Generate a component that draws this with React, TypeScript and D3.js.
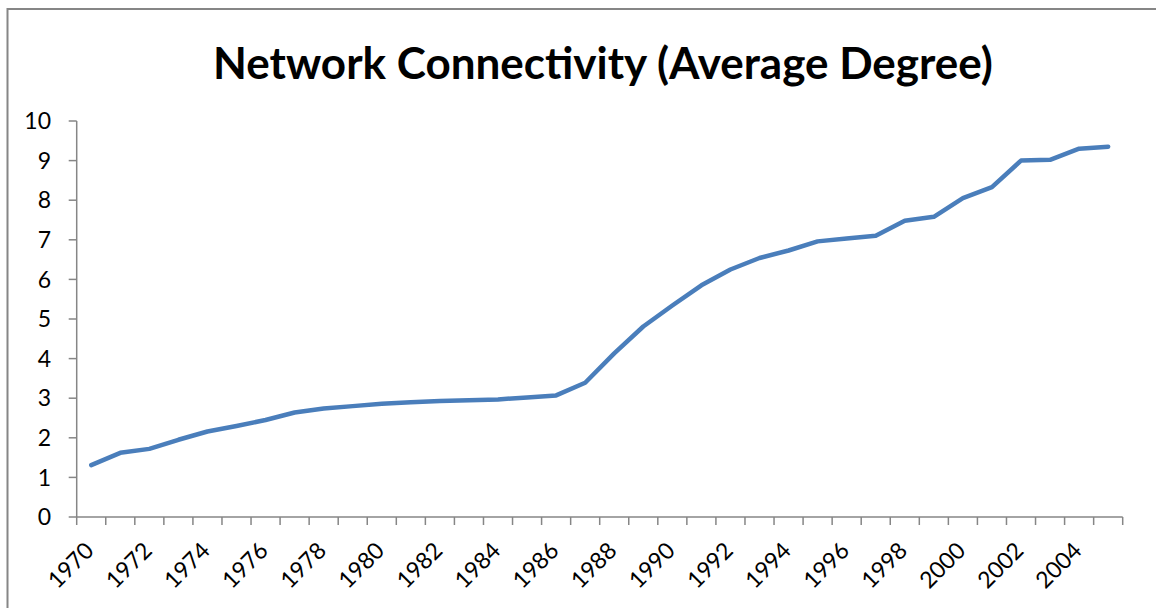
import React from "react";
import * as d3 from "d3";

const years: number[] = [
  1970, 1971, 1972, 1973, 1974, 1975, 1976, 1977, 1978, 1979, 1980, 1981,
  1982, 1983, 1984, 1985, 1986, 1987, 1988, 1989, 1990, 1991, 1992, 1993,
  1994, 1995, 1996, 1997, 1998, 1999, 2000, 2001, 2002, 2003, 2004, 2005,
];
const avgDegree: number[] = [
  1.31, 1.62, 1.72, 1.95, 2.16, 2.3, 2.45, 2.64, 2.74, 2.8, 2.86, 2.9,
  2.93, 2.95, 2.97, 3.02, 3.07, 3.39, 4.13, 4.81, 5.34, 5.85, 6.25, 6.54,
  6.73, 6.96, 7.03, 7.1, 7.48, 7.58, 8.05, 8.33, 9.0, 9.02, 9.3, 9.35,
];
const yTicks: number[] = [0, 1, 2, 3, 4, 5, 6, 7, 8, 9, 10];
const title = "Network Connectivity (Average Degree)";

const W = 1156;
const H = 608;
const plot = { left: 76.7, right: 1122.7, top: 121, bottom: 517 };
const axisColor = "#868686";
const lineColor = "#4A7EBB";
const font = "Lato, 'Open Sans', sans-serif";

export default function App() {
  const x = d3
    .scaleBand<number>()
    .domain(years)
    .range([plot.left, plot.right])
    .padding(0);
  const y = d3.scaleLinear().domain([0, 10]).range([plot.bottom, plot.top]);
  const bw = x.bandwidth();
  const cx = (yr: number) => (x(yr) as number) + bw / 2;

  const line = d3
    .line<number>()
    .x((_, i) => cx(years[i]))
    .y((d) => y(d));

  const boundaries = years.map((yr) => x(yr) as number).concat([plot.right]);

  return (
    <svg
      width={W}
      height={H}
      style={{ position: "absolute", left: 0, top: 0, background: "#fff" }}
    >
      <rect x={0} y={0} width={W} height={H} fill="#fff" />
      <rect
        x={7.5}
        y={9}
        width={1400}
        height={900}
        fill="none"
        stroke={axisColor}
        strokeWidth={2}
      />
      <text
        x={603}
        y={79}
        textAnchor="middle"
        fontFamily={font}
        fontWeight="bold"
        fontSize={44}
        fill="#000"
      >
        {title}
      </text>

      {/* Y axis */}
      <line
        x1={plot.left}
        x2={plot.left}
        y1={plot.top}
        y2={plot.bottom}
        stroke={axisColor}
        strokeWidth={1.5}
      />
      {yTicks.map((t) => (
        <g key={"y" + t}>
          <line
            x1={plot.left - 8}
            x2={plot.left}
            y1={y(t)}
            y2={y(t)}
            stroke={axisColor}
            strokeWidth={1.5}
          />
          <text
            x={51}
            y={y(t)}
            dy="0.36em"
            textAnchor="end"
            fontFamily={font}
            fontSize={23}
            fill="#000"
          >
            {t}
          </text>
        </g>
      ))}

      {/* X axis */}
      <line
        x1={plot.left}
        x2={plot.right}
        y1={plot.bottom}
        y2={plot.bottom}
        stroke={axisColor}
        strokeWidth={1.5}
      />
      {boundaries.map((bx, i) => (
        <line
          key={"xt" + i}
          x1={bx}
          x2={bx}
          y1={plot.bottom}
          y2={plot.bottom + 8}
          stroke={axisColor}
          strokeWidth={1.5}
        />
      ))}
      {years
        .filter((_, i) => i % 2 === 0)
        .map((yr) => (
          <text
            key={"xl" + yr}
            transform={`translate(${cx(yr) + 4},${552}) rotate(-45)`}
            textAnchor="end"
            fontFamily={font}
            fontSize={23}
            fill="#000"
          >
            {yr}
          </text>
        ))}

      <path
        d={line(avgDegree) || ""}
        fill="none"
        stroke={lineColor}
        strokeWidth={4.5}
        strokeLinejoin="round"
        strokeLinecap="round"
      />
    </svg>
  );
}
